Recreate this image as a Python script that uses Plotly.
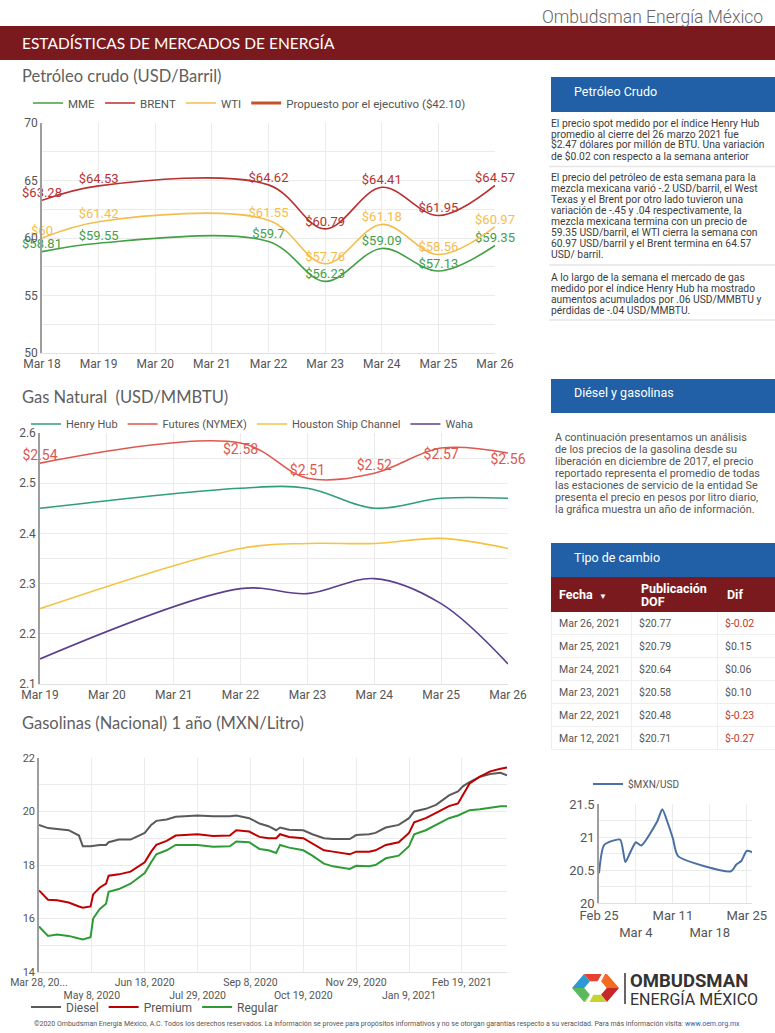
import plotly.graph_objects as go

W, H = 775, 1033
def px(x): return x / W
def py(y): return 1 - y / H

# ---------------- DATA ----------------
oil_dates = ['2021-03-18', '2021-03-19', '2021-03-22', '2021-03-23', '2021-03-24', '2021-03-25', '2021-03-26']
mme = [58.81, 59.55, 59.7, 56.23, 59.09, 57.13, 59.35]
brent = [63.28, 64.53, 64.62, 60.79, 64.41, 61.95, 64.57]
wti = [60, 61.42, 61.55, 57.76, 61.18, 58.56, 60.97]
propuesto = [42.10, 42.10, 42.10, 42.10, 42.10, 42.10, 42.10]

gas_dates = ['2021-03-19', '2021-03-22', '2021-03-23', '2021-03-24', '2021-03-25', '2021-03-26']
henry_hub = [2.45, 2.49, 2.49, 2.45, 2.47, 2.47]
futures = [2.54, 2.58, 2.51, 2.52, 2.57, 2.56]
houston = [2.25, 2.37, 2.38, 2.38, 2.39, 2.37]
waha = [2.15, 2.29, 2.28, 2.31, 2.26, 2.14]

fuel_dates = ['2020-03-28', '2020-04-04', '2020-04-11', '2020-04-20', '2020-04-28', '2020-05-01', '2020-05-07',
              '2020-05-09', '2020-05-14', '2020-05-19', '2020-05-21', '2020-05-29', '2020-06-07', '2020-06-18',
              '2020-06-23', '2020-06-27', '2020-07-05', '2020-07-12', '2020-07-29', '2020-08-10', '2020-08-23',
              '2020-08-28', '2020-09-07', '2020-09-15', '2020-09-22', '2020-09-28', '2020-10-01', '2020-10-08',
              '2020-10-19', '2020-10-26', '2020-11-04', '2020-11-11', '2020-11-24', '2020-11-29', '2020-12-09',
              '2020-12-14', '2020-12-22', '2021-01-01', '2021-01-09', '2021-01-13', '2021-01-22', '2021-01-30',
              '2021-02-09', '2021-02-16', '2021-02-20', '2021-02-25', '2021-03-05', '2021-03-13', '2021-03-21',
              '2021-03-26']
diesel = [19.5, 19.38, 19.35, 19.3, 19.1, 18.7, 18.7, 18.72, 18.75, 18.75, 18.85, 18.95, 18.95, 19.2,
          19.5, 19.65, 19.7, 19.8, 19.85, 19.82, 19.82, 19.85, 19.75, 19.55, 19.45, 19.3, 19.4, 19.32,
          19.3, 19.15, 19.0, 18.97, 18.97, 19.12, 19.15, 19.2, 19.4, 19.5, 19.75, 20.0, 20.1, 20.25,
          20.6, 20.75, 20.95, 21.1, 21.3, 21.4, 21.45, 21.35]
premium = [17.05, 16.7, 16.68, 16.6, 16.45, 16.4, 16.45, 16.9, 17.15, 17.3, 17.6, 17.65, 17.75, 18.1,
           18.5, 18.75, 18.9, 19.1, 19.15, 19.08, 19.1, 19.3, 19.25, 19.05, 19.0, 19.0, 19.15, 19.05,
           19.0, 18.8, 18.55, 18.5, 18.4, 18.5, 18.5, 18.55, 18.75, 18.85, 19.2, 19.6, 19.75, 19.95,
           20.2, 20.3, 20.65, 21.05, 21.3, 21.5, 21.6, 21.65]
regular = [15.7, 15.35, 15.4, 15.35, 15.25, 15.22, 15.3, 16.0, 16.35, 16.55, 17.0, 17.1, 17.3, 17.7,
           18.1, 18.4, 18.55, 18.75, 18.75, 18.68, 18.7, 18.88, 18.85, 18.6, 18.55, 18.45, 18.75, 18.65,
           18.55, 18.35, 18.05, 17.95, 17.85, 17.97, 17.95, 18.0, 18.25, 18.35, 18.7, 19.15, 19.3, 19.5,
           19.75, 19.85, 19.95, 20.05, 20.08, 20.15, 20.2, 20.2]
fuel_tickvals = ['2020-03-28', '2020-05-08', '2020-06-18', '2020-07-29', '2020-09-08', '2020-10-19',
                 '2020-11-29', '2021-01-09', '2021-02-19']
fuel_ticktext = ['Mar 28, 20...', '<br>May 8, 2020', 'Jun 18, 2020', '<br>Jul 29, 2020', 'Sep 8, 2020',
                 '<br>Oct 19, 2020', 'Nov 29, 2020', '<br>Jan 9, 2021', 'Feb 19, 2021']

fx_dates = ['2021-02-25', '2021-02-26', '2021-03-01', '2021-03-02', '2021-03-03', '2021-03-04', '2021-03-05',
            '2021-03-08', '2021-03-09', '2021-03-10', '2021-03-11', '2021-03-12', '2021-03-22', '2021-03-23',
            '2021-03-24', '2021-03-25', '2021-03-26']
fx_values = [20.45, 20.88, 20.96, 20.62, 20.78, 20.92, 20.87, 21.23, 21.42, 21.22, 20.98, 20.71, 20.48, 20.58,
             20.64, 20.79, 20.77]
fx_tickvals = ['2021-02-25', '2021-03-04', '2021-03-11', '2021-03-18', '2021-03-25']
fx_ticktext = ['Feb 25', '<br>Mar 4', 'Mar 11', '<br>Mar 18', 'Mar 25']

table_dates = ['Mar 26, 2021', 'Mar 25, 2021', 'Mar 24, 2021', 'Mar 23, 2021', 'Mar 22, 2021', 'Mar 12, 2021']
table_dof = [20.77, 20.79, 20.64, 20.58, 20.48, 20.71]
table_dif = [-0.02, 0.15, 0.06, 0.10, -0.23, -0.27]

# ---------------- STYLE ----------------
GRID = '#ebebeb'
TICK = '#555555'
RED_BANNER = '#7a1a1e'
BLUE = '#215fa6'

fig = go.Figure()

# Petroleum
oil_series = [('MME', mme, '#43a047'), ('BRENT', brent, '#b8312f'), ('WTI', wti, '#f5bd4f')]
for name, vals, col in oil_series:
    fig.add_trace(go.Scatter(x=oil_dates, y=vals, name=name, mode='lines+text',
                             line=dict(color=col, width=1.6, shape='spline'),
                             texttemplate='$%{y}', textposition='top center',
                             textfont=dict(family='Roboto', size=13, color=col),
                             cliponaxis=False, xaxis='x', yaxis='y', legend='legend', hoverinfo='skip'))
fig.add_trace(go.Scatter(x=oil_dates, y=propuesto, name='Propuesto por el ejecutivo ($42.10)', mode='lines',
                         line=dict(color='#c4532a', width=3), xaxis='x', yaxis='y', legend='legend'))

# Gas
fig.add_trace(go.Scatter(x=gas_dates, y=henry_hub, name='Henry Hub', mode='lines',
                         line=dict(color='#2f9e7c', width=1.6, shape='spline'),
                         xaxis='x2', yaxis='y2', legend='legend2'))
fig.add_trace(go.Scatter(x=gas_dates, y=futures, name='Futures (NYMEX)', mode='lines+text',
                         line=dict(color='#e0574f', width=1.6, shape='spline'),
                         texttemplate='$%{y}',
                         textposition=['top center', 'bottom center', 'top center', 'top center',
                                       'bottom center', 'bottom center'],
                         textfont=dict(family='Roboto', size=14, color='#e0574f'),
                         cliponaxis=False, xaxis='x2', yaxis='y2', legend='legend2'))
fig.add_trace(go.Scatter(x=gas_dates, y=houston, name='Houston Ship Channel', mode='lines',
                         line=dict(color='#f5c342', width=1.6, shape='spline'),
                         xaxis='x2', yaxis='y2', legend='legend2'))
fig.add_trace(go.Scatter(x=gas_dates, y=waha, name='Waha', mode='lines',
                         line=dict(color='#5b3f8f', width=1.6, shape='spline'),
                         xaxis='x2', yaxis='y2', legend='legend2'))

# Fuels
for name, vals, col in [('Diesel', diesel, '#5a5a5a'), ('Premium', premium, '#c00000'), ('Regular', regular, '#2e9b35')]:
    fig.add_trace(go.Scatter(x=fuel_dates, y=vals, name=name, mode='lines',
                             line=dict(color=col, width=2),
                             xaxis='x3', yaxis='y3', legend='legend3'))

# FX
fig.add_trace(go.Scatter(x=fx_dates, y=fx_values, name='$MXN/USD', mode='lines',
                         line=dict(color='#4a6fa5', width=2, shape='spline', smoothing=0.6),
                         xaxis='x4', yaxis='y4', legend='legend4'))

# Table (header row is a blank red band; labels are placed as annotations on top of it)
NB = '\u00a0'
dif_text = [('$%.2f' % v) for v in table_dif]
dif_colors = ['#c0392b' if v < 0 else '#555555' for v in table_dif]
fig.add_trace(go.Table(
    domain=dict(x=[px(551), 1], y=[py(752), py(577)]),
    columnwidth=[80, 86, 58],
    header=dict(values=['', '', ''], height=34, fill_color=RED_BANNER, line_color=RED_BANNER,
                font=dict(size=10, color='white')),
    cells=dict(values=[[d.replace(' ', NB) for d in table_dates], ['$%.2f' % v for v in table_dof], dif_text],
               fill_color='white', line_color='#eeeeee', align='left', height=23,
               font=dict(family='Roboto', size=10.5,
                         color=[['#555555'] * 6, ['#555555'] * 6, dif_colors]))))

# ---------------- AXES ----------------
def xax(domain, **kw):
    d = dict(domain=domain, showgrid=True, gridcolor=GRID, zeroline=False, showline=True,
             linecolor='#e0e0e0', tickfont=dict(family='Roboto', size=12, color=TICK), ticks='',
             automargin=False, tickangle=0)
    d.update(kw)
    return d

def yax(domain, anchor, **kw):
    d = dict(domain=domain, anchor=anchor, showgrid=True, gridcolor=GRID, zeroline=False, showline=True,
             linecolor='#9e9e9e', linewidth=1.5, tickfont=dict(family='Roboto', size=12, color=TICK), ticks='',
             automargin=False)
    d.update(kw)
    return d

layout = dict(
    width=W, height=H, autosize=False, margin=dict(l=0, r=0, t=0, b=0, autoexpand=False),
    paper_bgcolor='white', plot_bgcolor='white', showlegend=True,
    xaxis=xax([px(42), px(495)], anchor='y', type='date', range=['2021-03-18', '2021-03-26'],
              dtick=86400000, tickformat='%b %-d'),
    yaxis=yax([py(353), py(123)], 'x', range=[50, 70], dtick=5,
              minor=dict(dtick=2.5, showgrid=True, gridcolor=GRID)),
    xaxis2=xax([px(40), px(508)], anchor='y2', type='date', range=['2021-03-19', '2021-03-26'],
               dtick=86400000, tickformat='%b %-d'),
    yaxis2=yax([py(684), py(433)], 'x2', range=[2.1, 2.6], dtick=0.1,
               minor=dict(dtick=0.05, showgrid=True, gridcolor=GRID)),
    xaxis3=xax([px(39), px(507)], anchor='y3', type='date', range=['2020-03-28', '2021-03-26'],
               tickvals=fuel_tickvals, ticktext=fuel_ticktext,
               tickfont=dict(family='Roboto', size=10.5, color=TICK)),
    yaxis3=yax([py(972), py(758)], 'x3', range=[14, 22], dtick=2,
               tickfont=dict(family='Roboto', size=11, color=TICK),
               minor=dict(dtick=1, showgrid=True, gridcolor=GRID)),
    xaxis4=xax([px(599), px(752)], anchor='y4', type='date', range=['2021-02-25', '2021-03-26'],
               tickvals=fx_tickvals, ticktext=fx_ticktext,
               tickfont=dict(family='Roboto', size=13, color=TICK)),
    yaxis4=yax([py(903), py(804)], 'x4', range=[20, 21.5], tickvals=[20, 20.5, 21, 21.5],
               ticktext=['20', '20.5', '21', '21.5'], tickfont=dict(family='Roboto', size=13, color=TICK),
               minor=dict(dtick=0.25, showgrid=True, gridcolor=GRID)),
)

def leg(x, y, size=12):
    return dict(x=px(x), y=py(y), xanchor='left', yanchor='middle', orientation='h',
                font=dict(family='Roboto', size=size, color=TICK), bgcolor='rgba(0,0,0,0)',
                itemwidth=30, tracegroupgap=0)

layout['legend'] = leg(28, 103, size=11.5)
layout['legend2'] = leg(26, 424, size=11)
layout['legend3'] = leg(26, 1007)
layout['legend4'] = leg(588, 784, size=10)
fig.update_layout(**layout)

# ---------------- SHAPES ----------------
def rect(x0, y0, x1, y1, color):
    fig.add_shape(type='rect', xref='paper', yref='paper', x0=px(x0), x1=px(x1), y0=py(y1), y1=py(y0),
                  fillcolor=color, line=dict(width=0), layer='below')

def hline(x0, x1, y, color='#e6e6e6', width=1.5):
    fig.add_shape(type='line', xref='paper', yref='paper', x0=px(x0), x1=px(x1), y0=py(y), y1=py(y),
                  line=dict(color=color, width=width))

rect(0, 26, 775, 60, RED_BANNER)
rect(551, 77, 775, 112, BLUE)
rect(551, 379, 775, 413, BLUE)
rect(551, 543, 775, 577, BLUE)
for yy in [166.5, 265, 320]:
    hline(549, 775, yy)

# logo hexagon
cx, cy = 595.5, 988
outer = [(572, 988), (584, 974), (607, 974), (619, 988), (607, 1002), (584, 1002)]
inner = [(cx + (x - cx) * 0.48, cy + (y - cy) * 0.48) for x, y in outer]
seg_colors = ['#2d9ad4', '#e8402f', '#f26b21', '#c62828', '#c9d32f', '#5cb85c']
for i in range(6):
    j = (i + 1) % 6
    pts = [outer[i], outer[j], inner[j], inner[i]]
    path = 'M ' + ' L '.join('%f,%f' % (px(a), py(b)) for a, b in pts) + ' Z'
    fig.add_shape(type='path', xref='paper', yref='paper', path=path,
                  fillcolor=seg_colors[i], line=dict(width=0))
fig.add_shape(type='line', xref='paper', yref='paper', x0=px(587), y0=py(1003), x1=px(604), y1=py(973),
              line=dict(color='white', width=3))
fig.add_shape(type='line', xref='paper', yref='paper', x0=px(625), y0=py(973), x1=px(625), y1=py(1004),
              line=dict(color='#333333', width=1.5))

# ---------------- TEXT ----------------
def txt(x, y, s, size, color, family='Roboto', xanchor='left', yanchor='middle', weight=None):
    f = dict(family=family, size=size, color=color)
    if weight:
        f['weight'] = weight
    fig.add_annotation(x=px(x), y=py(y), xref='paper', yref='paper', text=s, showarrow=False,
                       xanchor=xanchor, yanchor=yanchor, align='left', font=f)

txt(765, 17, 'Ombudsman Energía México', 17.5, '#666666', xanchor='right', weight=300)
txt(20, 43, 'ESTADÍSTICAS DE MERCADOS DE ENERGÍA', 15.5, 'white', family='Lato')
txt(20, 76, 'Petróleo crudo (USD/Barril)', 16.5, '#5f5f5f', family='Lato')
txt(20, 397, 'Gas Natural  (USD/MMBTU)', 16.5, '#5f5f5f', family='Lato')
txt(20, 723, 'Gasolinas (Nacional) 1 año (MXN/Litro)', 16.5, '#5f5f5f', family='Lato')

txt(572, 92, 'Petróleo Crudo', 12.5, 'white')
txt(572, 393, 'Diésel y gasolinas', 12.5, 'white')
txt(572, 557, 'Tipo de cambio', 12.5, 'white')

# table header labels
txt(557, 594, '<b>Fecha</b>  <span style="font-size:8px">▼</span>', 12.5, 'white')
txt(639, 588, '<b>Publicación</b>', 12.5, 'white')
txt(639, 601, '<b>DOF</b>', 12.5, 'white')
txt(725, 594, '<b>Dif</b>', 12.5, 'white')

p1 = ['El precio spot medido por el índice Henry Hub',
      'promedio al cierre del 26 marzo 2021 fue',
      '$2.47 dólares por millón de BTU. Una variación',
      'de $0.02 con respecto a la semana anterior']
p2 = ['El precio del petróleo de esta semana para la',
      'mezcla mexicana varió -.2 USD/barril, el West',
      'Texas y el Brent por otro lado tuvieron una',
      'variación de -.45 y .04 respectivamente, la',
      'mezcla mexicana termina con un precio de',
      '59.35 USD/barril, el WTI cierra la semana con',
      '60.97 USD/barril y el Brent termina en 64.57',
      'USD/ barril.']
p3 = ['A lo largo de la semana el mercado de gas',
      'medido por el índice Henry Hub ha mostrado',
      'aumentos acumulados por .06 USD/MMBTU y',
      'pérdidas de -.04 USD/MMBTU.']
for start, lines in [(123, p1), (177.5, p2), (277.5, p3)]:
    for k, s in enumerate(lines):
        txt(549, start + 11 * k, s, 10.3, '#3c3c3c')

p4 = ['A continuación presentamos un análisis',
      'de los precios de la gasolina desde su',
      'liberación en diciembre de 2017, el precio',
      'reportado representa el promedio de todas',
      'las estaciones de servicio de la entidad Se',
      'presenta el precio en pesos por litro diario,',
      'la gráfica muestra un año de información.']
for k, s in enumerate(p4):
    txt(553, 437 + 12.05 * k, s, 10.8, '#555555')

txt(628, 981, '<b>OMBUDSMAN</b>', 18.5, '#333333')
txt(628, 999.5, 'ENERGÍA MÉXICO', 16, '#333333')

footer = ('©2020 Ombudsman Energía México, A.C. Todos los derechos reservados. La información se provee para '
          'propósitos informativos y no se otorgan garantías respecto a su veracidad. Para más información visita: '
          '<span style="color:#1a5fb4">www.oem.org.mx</span>')
txt(387, 1024, footer, 7, '#555555', xanchor='center')

fig.write_html('out.html', config={'displayModeBar': False},
               post_script="document.body.style.margin='0';")
